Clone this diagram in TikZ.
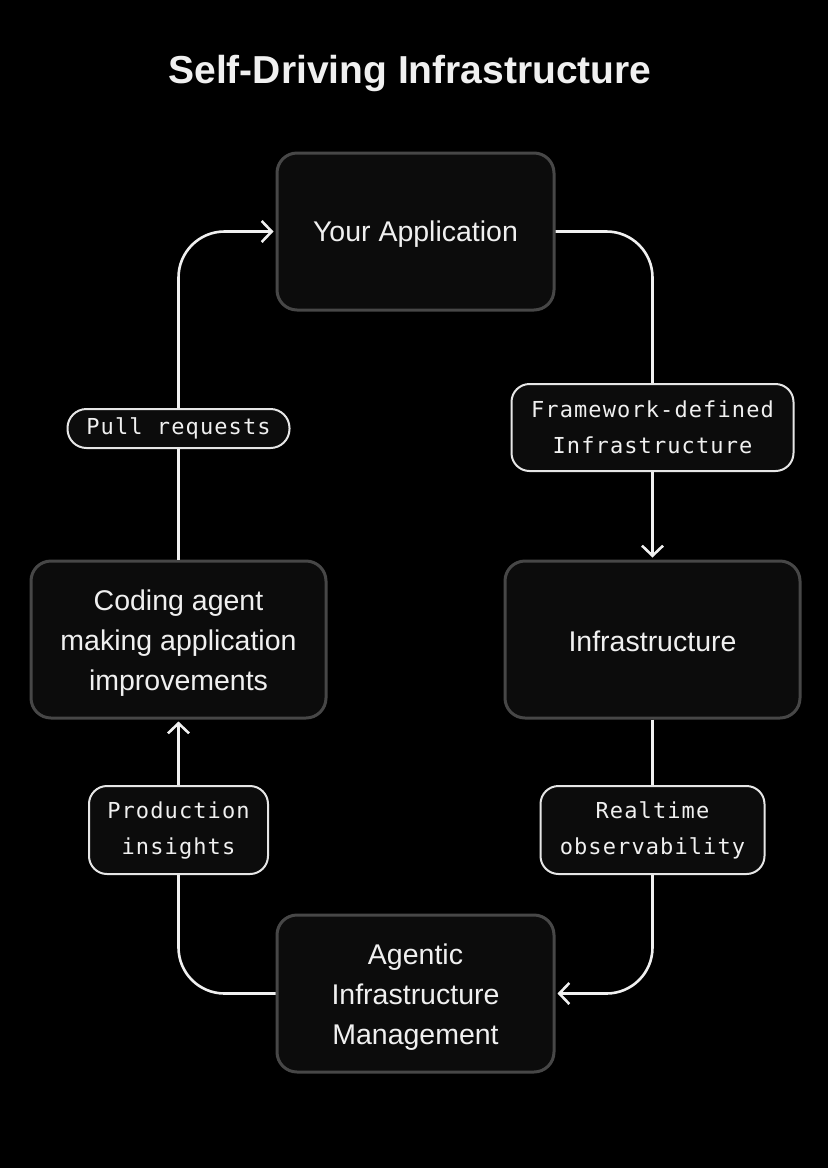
\documentclass[tikz,border=0pt]{standalone}
\usepackage{fontspec}
\setmainfont{Liberation Sans}
\newfontfamily\monof[LetterSpace=5]{DejaVu Sans Mono}
\usetikzlibrary{arrows.meta}
\definecolor{boxfill}{HTML}{0C0C0C}
\definecolor{boxline}{HTML}{474747}
\definecolor{fg}{HTML}{F0F0F0}
\definecolor{lblline}{HTML}{E6E6E6}
\begin{document}
\begin{tikzpicture}[x=1pt,y=-1pt,
  mainbox/.style={draw=boxline, line width=3pt, fill=boxfill, rounded corners=20pt,
    inner sep=0pt, minimum height=157pt},
  boxtext/.style={text=fg, align=center, inner sep=0pt,
    font=\fontsize{28.5}{40}\selectfont},
  lbl/.style={draw=lblline, line width=2pt, fill=boxfill, rounded corners=18pt,
    text=fg, align=center, inner sep=0pt,
    font=\monof\fontsize{22}{36}\selectfont},
  conn/.style={draw=fg, line width=2.6pt, rounded corners=46pt},
  arr/.style={-{Straight Barb[length=10pt,width=21pt,line width=2.6pt]}, shorten >=2pt}
]
\fill[black] (0,0) rectangle (828,1168);
\useasboundingbox (0,0) rectangle (828,1168);

\node[text=fg, font=\bfseries\fontsize{39}{46}\selectfont] (title) at (410,73) {Self-Driving Infrastructure};

\node[mainbox, minimum width=277pt] (app) at (415.5,231.5) {};
\node[mainbox, minimum width=295pt] (infra) at (652.5,639.5) {};
\node[mainbox, minimum width=295pt] (coding) at (178.5,639.5) {};
\node[mainbox, minimum width=277pt] (agentic) at (415.5,993.5) {};

\node[boxtext] (appt) at ([yshift=-3pt]app.center) {Your Application};
\node[boxtext] (infrat) at ([yshift=-2pt]infra.center) {Infrastructure};
\node[boxtext] (codingt) at ([yshift=-4pt]coding.center) {Coding agent\\making application\\improvements};
\node[boxtext] (agentict) at ([yshift=-4pt]agentic.center) {Agentic\\Infrastructure\\Management};

\node[lbl, minimum width=282pt, minimum height=87pt] (fw) at (652.5,427.5) {Framework-defined\\Infrastructure};
\node[lbl, minimum width=222pt, minimum height=39pt, rounded corners=19pt] (pull) at (178.5,428.5) {Pull requests};
\node[lbl, minimum width=179pt, minimum height=88pt] (prod) at (178.5,830) {Production\\insights};
\node[lbl, minimum width=224pt, minimum height=88pt] (real) at (652.5,830) {Realtime\\observability};

\draw[conn] (app.east) -| (fw.north);
\draw[conn, arr] (fw.south) -- (infra.north);
\draw[conn] (infra.south) -- (real.north);
\draw[conn, arr] (real.south) |- (agentic.east);
\draw[conn] (agentic.west) -| (prod.south);
\draw[conn, arr] (prod.north) -- (coding.south);
\draw[conn] (coding.north) -- (pull.south);
\draw[conn, arr] (pull.north) |- (app.west);
\end{tikzpicture}
\end{document}
